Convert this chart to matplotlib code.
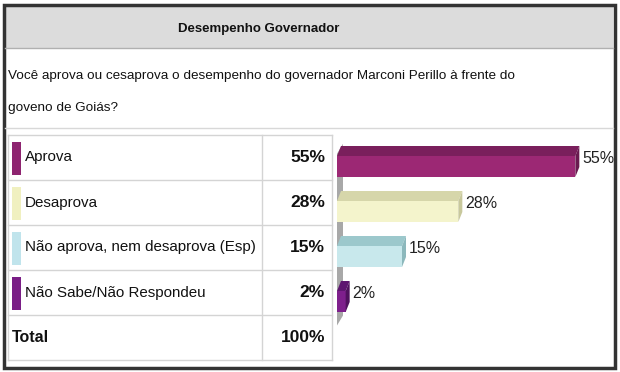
import matplotlib
matplotlib.use("Agg")
import matplotlib.pyplot as plt
from matplotlib.patches import Rectangle, Polygon

# data
title = "Desempenho Governador"
question = ["Você aprova ou cesaprova o desempenho do governador Marconi Perillo à frente do",
            "goveno de Goiás?"]
categories = ["Aprova", "Desaprova", "Não aprova, nem desaprova (Esp)", "Não Sabe/Não Respondeu"]
values = [55, 28, 15, 2]
total_label = "Total"
total_value = 100

front_colors = ["#9c2874", "#f4f4cc", "#c8e8ec", "#7e1f8c"]
top_colors = ["#7a1f5c", "#d6d6aa", "#9cc8cc", "#5e1670"]
side_colors = ["#6a1a50", "#c8c89c", "#8cb8bc", "#50125e"]
swatch_colors = ["#8e2470", "#f0f0c0", "#c0e4ec", "#7a1e86"]

plt.rcParams["font.family"] = ["Liberation Sans", "DejaVu Sans"]

W, H = 620, 372
fig = plt.figure(figsize=(W / 100, H / 100), dpi=100)

# background / table layer in pixel coordinates
bg = fig.add_axes([0, 0, 1, 1])
bg.set_xlim(0, W)
bg.set_ylim(H, 0)
bg.axis("off")

# header
bg.add_patch(Rectangle((5, 6), 608, 42, facecolor="#dcdcdc", edgecolor="none"))
bg.plot([5, 613], [48, 48], color="#b0b0b0", lw=1)
bg.text(259, 29, title, ha="center", va="center", fontsize=9.5, fontweight="bold", color="#111111")

# question
for i, line in enumerate(question):
    bg.text(8, 76 + 32 * i, line, ha="left", va="center", fontsize=9.7, color="#111111")
bg.plot([5, 613], [128, 128], color="#d8d8d8", lw=1)

# table
row_top, row_h = 135, 45
n_rows = len(categories) + 1
tx0, tcol, tx1 = 8, 262, 332
for r in range(n_rows + 1):
    y = row_top + r * row_h
    bg.plot([tx0, tx1], [y, y], color="#d4d4d4", lw=1)
bg.plot([tx0, tx0], [row_top, row_top + n_rows * row_h], color="#d4d4d4", lw=1)
bg.plot([tcol, tcol], [row_top, row_top + n_rows * row_h], color="#d4d4d4", lw=1)
bg.plot([tx1, tx1], [row_top, row_top + n_rows * row_h], color="#d4d4d4", lw=1)

for i, (cat, v) in enumerate(zip(categories, values)):
    yc = row_top + row_h * (i + 0.5)
    bg.add_patch(Rectangle((12, yc - 16), 9, 33, facecolor=swatch_colors[i], edgecolor="none"))
    bg.text(25, yc, cat, ha="left", va="center", fontsize=10.9, color="#111111")
    bg.text(325, yc, f"{v}%", ha="right", va="center", fontsize=12.5, fontweight="bold", color="#111111")
yc = row_top + row_h * (n_rows - 0.5)
bg.text(12, yc, total_label, ha="left", va="center", fontsize=11.5, fontweight="bold", color="#111111")
bg.text(325, yc, f"{total_value}%", ha="right", va="center", fontsize=12.5, fontweight="bold", color="#111111")

# outer frame
bg.add_patch(Rectangle((4, 4.5), 611, 363, facecolor="none", edgecolor="#333333", lw=2.5))

# bar chart axes
ax_w = 260
ax = fig.add_axes([337 / W, (H - 360) / H, ax_w / W, 225 / H])
ax.set_xlim(0, 60)
ax.set_ylim(n_rows - 0.5, -0.5)
ax.axis("off")
ax.patch.set_alpha(0)

px_x = ax_w / 60.0   # pixels per x unit
px_y = 45.0          # pixels per y unit
dx = 4 / px_x
dy = 10 / px_y
bh = 21 / px_y
shift = 0.2

# gray wall on the left
yt = shift - bh / 2 - 0.05
yb = len(values) - 1 + shift + bh / 2 + 0.3
ax.add_patch(Polygon([(0, yb), (dx * 1.5, yb - dy), (dx * 1.5, yt - dy), (0, yt)],
                     closed=True, facecolor="#a8a8a8", edgecolor="none", zorder=1))

ys = [i + shift for i in range(len(values))]
ax.barh(ys, values, height=bh, color=front_colors, edgecolor="none", zorder=3)
for y, v, tc, sc in zip(ys, values, top_colors, side_colors):
    top = y - bh / 2
    bot = y + bh / 2
    ax.add_patch(Polygon([(0, top), (v, top), (v + dx, top - dy), (dx, top - dy)],
                         closed=True, facecolor=tc, edgecolor="none", zorder=3))
    ax.add_patch(Polygon([(v, top), (v, bot), (v + dx, bot - dy), (v + dx, top - dy)],
                         closed=True, facecolor=sc, edgecolor="none", zorder=3))
    ax.text(v + dx + 0.6, top + 0.05, f"{v}%", ha="left", va="center", fontsize=11.5, color="#222222")

fig.savefig("out.png", dpi=100)
